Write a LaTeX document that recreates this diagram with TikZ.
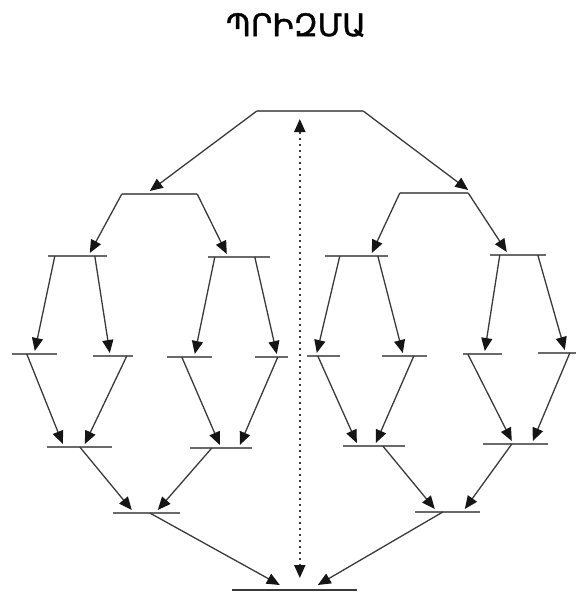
\documentclass[tikz,border=0pt]{standalone}
\usepackage{fontspec}
\newfontfamily\armfont[FakeBold=1.2]{DejaVu Sans}
\usetikzlibrary{arrows.meta}
\definecolor{barcol}{HTML}{6A6A6A}
\definecolor{linecol}{HTML}{3A3A3A}
\definecolor{tipcol}{HTML}{151515}
\tikzset{
  tip/.tip={Triangle[length=13pt,width=11pt,color=tipcol]},
  bar/.style={fill=barcol, draw=none, inner sep=0pt, minimum height=2.4pt},
  conn/.style={draw=linecol, line width=1.3pt, -tip},
  dotline/.style={draw=linecol, line width=2pt, dash pattern=on 2pt off 4pt, tip-tip}
}
\begin{document}
\begin{tikzpicture}[x=1pt,y=-1pt]
\useasboundingbox (0,0) rectangle (576,592);
\node[inner sep=0pt] (title) at (296,25) {\armfont\fontsize{31}{36}\selectfont ՊՐԻԶՄԱ};
% bars
\node[bar, minimum width=106pt] (T) at (310,111) {};
\node[bar, minimum width=75pt] (L2) at (159.5,194) {};
\node[bar, minimum width=68pt] (R2) at (434,193) {};
\node[bar, minimum width=59pt] (L3a) at (77.5,256) {};
\node[bar, minimum width=62pt] (L3b) at (239,257) {};
\node[bar, minimum width=63pt] (R3a) at (356.5,256) {};
\node[bar, minimum width=56pt] (R3b) at (518,255) {};
\node[bar, minimum width=45pt] (A) at (34.5,354) {};
\node[bar, minimum width=40pt] (B) at (113,356) {};
\node[bar, minimum width=45pt] (C) at (189.5,357) {};
\node[bar, minimum width=33pt] (D) at (271.5,357) {};
\node[bar, minimum width=33pt] (E) at (323.5,356) {};
\node[bar, minimum width=45pt] (F) at (404.5,356) {};
\node[bar, minimum width=39pt] (G) at (482.5,354) {};
\node[bar, minimum width=38pt] (H) at (557,353) {};
\node[bar, minimum width=65pt] (L5a) at (79.5,447) {};
\node[bar, minimum width=62pt] (L5b) at (221,448) {};
\node[bar, minimum width=62pt] (L5c) at (374,446) {};
\node[bar, minimum width=65pt] (L5d) at (515.5,444) {};
\node[bar, minimum width=67pt] (L6a) at (146.5,513) {};
\node[bar, minimum width=65pt] (L6b) at (447.5,512) {};
\node[bar, minimum width=125pt, fill=linecol, minimum height=2.8pt] (Bot) at (294.5,590) {};
% connectors
\draw[conn] (T.west) -- ([xshift=28pt,yshift=3pt]L2.west);
\draw[conn] (T.east) -- ([yshift=3pt]R2.east);
\draw[conn] (L2.west) -- ([xshift=42pt,yshift=3pt]L3a.west);
\draw[conn] (L2.east) -- ([xshift=19pt,yshift=3pt]L3b.west);
\draw[conn] (R2.west) -- ([xshift=47pt,yshift=3pt]R3a.west);
\draw[conn] (R2.east) -- ([xshift=17pt,yshift=3pt]R3b.west);
\draw[conn] ([xshift=7pt]L3a.west) -- ([xshift=23pt,yshift=3pt]A.west);
\draw[conn] ([xshift=47pt]L3a.west) -- ([xshift=17pt,yshift=3pt]B.west);
\draw[conn] ([xshift=7pt]L3b.west) -- ([xshift=28pt,yshift=3pt]C.west);
\draw[conn] ([xshift=47pt]L3b.west) -- ([xshift=22pt,yshift=3pt]D.west);
\draw[conn] ([xshift=15pt]R3a.west) -- ([xshift=10pt,yshift=3pt]E.west);
\draw[conn] ([xshift=53pt]R3a.west) -- ([xshift=21pt,yshift=3pt]F.west);
\draw[conn] ([xshift=10pt]R3b.west) -- ([xshift=22pt,yshift=3pt]G.west);
\draw[conn] ([xshift=48pt]R3b.west) -- ([xshift=27pt,yshift=3pt]H.west);
\draw[conn] ([xshift=15pt]A.west) -- ([xshift=16pt,yshift=3pt]L5a.west);
\draw[conn] ([xshift=34pt]B.west) -- ([xshift=38pt,yshift=3pt]L5a.west);
\draw[conn] ([xshift=15pt]C.west) -- ([xshift=30pt,yshift=3pt]L5b.west);
\draw[conn] ([xshift=23pt]D.west) -- ([xshift=50pt,yshift=3pt]L5b.west);
\draw[conn] ([xshift=11pt]E.west) -- ([xshift=14pt,yshift=3pt]L5c.west);
\draw[conn] ([xshift=32pt]F.west) -- ([xshift=33pt,yshift=3pt]L5c.west);
\draw[conn] ([xshift=5pt]G.west) -- ([xshift=29pt,yshift=3pt]L5d.west);
\draw[conn] ([xshift=32pt]H.west) -- ([xshift=50pt,yshift=3pt]L5d.west);
\draw[conn] ([xshift=33pt]L5a.west) -- ([xshift=19pt,yshift=3pt]L6a.west);
\draw[conn] ([xshift=22pt]L5b.west) -- ([xshift=45pt,yshift=3pt]L6a.west);
\draw[conn] ([xshift=40pt]L5c.west) -- ([xshift=20pt,yshift=3pt]L6b.west);
\draw[conn] ([xshift=29pt]L5d.west) -- ([xshift=50pt,yshift=3pt]L6b.west);
\draw[conn] ([xshift=37pt]L6a.west) -- ([xshift=48pt,yshift=5pt]Bot.west);
\draw[conn] ([xshift=28pt]L6b.west) -- ([xshift=86pt,yshift=5pt]Bot.west);
% dotted double arrow
\draw[dotline] ([xshift=43pt,yshift=-8pt]T.west) -- ([xshift=68pt,yshift=12pt]Bot.west);
\end{tikzpicture}
\end{document}
